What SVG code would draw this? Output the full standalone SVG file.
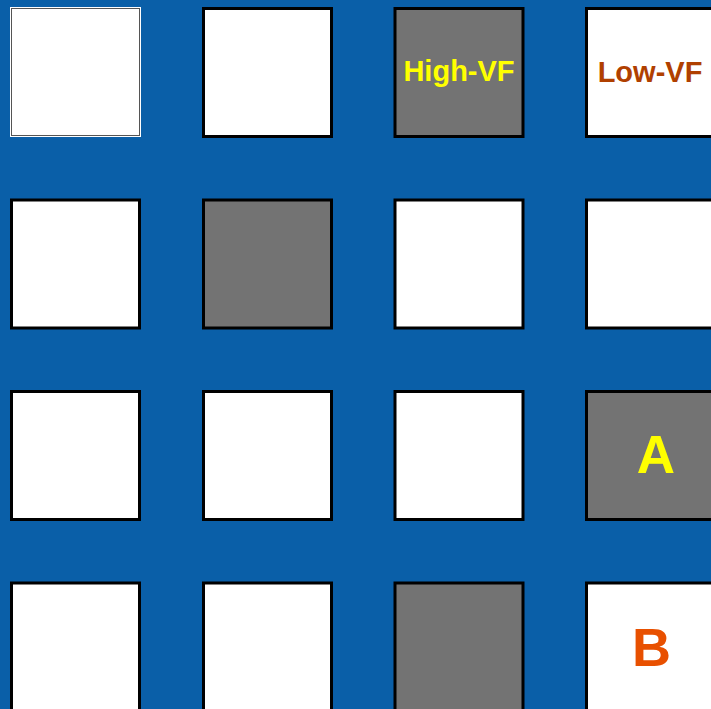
<svg xmlns="http://www.w3.org/2000/svg" width="711" height="709" viewBox="0 0 711 709">
<style>
.sq{fill:#ffffff;stroke:#000000;stroke-width:3}
.g{fill:#737373}
.t{font-family:"Liberation Sans",Arial,sans-serif;font-weight:bold;text-anchor:middle}
</style>
<rect x="0" y="0" width="711" height="709" fill="#0A5FA8"/>
<g id="n11"><rect x="10.5" y="7.5" width="130" height="129" fill="#ffffff" stroke="#ffffff" stroke-width="1"/><rect x="11.5" y="8.5" width="128" height="127" fill="#ffffff" stroke="#555555" stroke-width="1"/></g>
<g id="n12"><rect class="sq" x="203.5" y="8.5" width="128" height="128"/></g>
<g id="n13"><rect class="sq g" x="395" y="8.5" width="128" height="128"/><text class="t" x="459" y="81" font-size="29" fill="#FFFF00">High-VF</text></g>
<g id="n14"><rect class="sq" x="586.5" y="8.5" width="128" height="128"/><text class="t" x="650" y="82" font-size="29" fill="#B04000">Low-VF</text></g>
<g id="n21"><rect class="sq" x="11.5" y="200" width="128" height="128"/></g>
<g id="n22"><rect class="sq g" x="203.5" y="200" width="128" height="128"/></g>
<g id="n23"><rect class="sq" x="395" y="200" width="128" height="128"/></g>
<g id="n24"><rect class="sq" x="586.5" y="200" width="128" height="128"/></g>
<g id="n31"><rect class="sq" x="11.5" y="391.5" width="128" height="128"/></g>
<g id="n32"><rect class="sq" x="203.5" y="391.5" width="128" height="128"/></g>
<g id="n33"><rect class="sq" x="395" y="391.5" width="128" height="128"/></g>
<g id="n34"><rect class="sq g" x="586.5" y="391.5" width="128" height="128"/><text class="t" x="656" y="473" font-size="53" fill="#FFFF00">A</text></g>
<g id="n41"><rect class="sq" x="11.5" y="583" width="128" height="128"/></g>
<g id="n42"><rect class="sq" x="203.5" y="583" width="128" height="128"/></g>
<g id="n43"><rect class="sq g" x="395" y="583" width="128" height="128"/></g>
<g id="n44"><rect class="sq" x="586.5" y="583" width="128" height="128"/><text class="t" x="651.5" y="666" font-size="54" fill="#E85000">B</text></g>
<g id="connectors"></g>
</svg>
